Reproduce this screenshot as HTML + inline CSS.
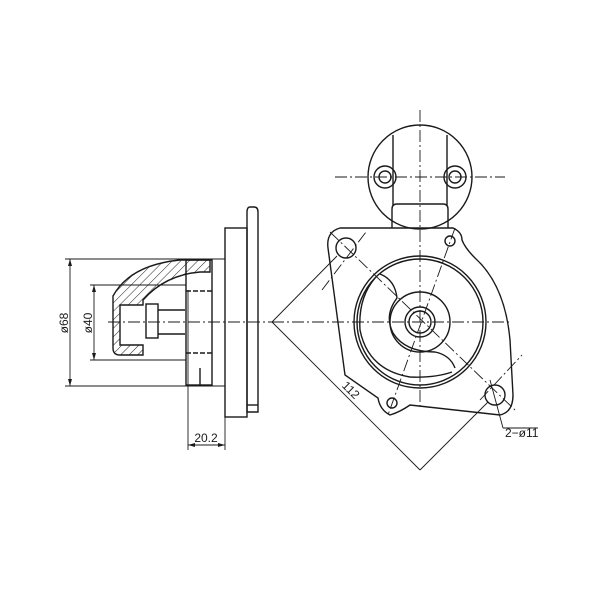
<!DOCTYPE html>
<html><head><meta charset="utf-8"><style>html,body{margin:0;background:#fff}</style></head>
<body>
<svg width="600" height="600" viewBox="0 0 600 600" xmlns="http://www.w3.org/2000/svg" font-family="Liberation Sans, sans-serif">
<defs>
<pattern id="h" width="6" height="6" patternUnits="userSpaceOnUse" patternTransform="rotate(45)">
<line x1="0" y1="0" x2="0" y2="6" stroke="#222" stroke-width="1"/></pattern>
</defs>
<g fill="none" stroke="#1a1a1a" stroke-width="1.4">
<!-- LEFT VIEW -->
<rect x="225" y="228" width="22" height="189"/>
<path d="M247 412 L258 412 L258 212 Q258 207 254 207 L250 207 Q247 207 247 212 Z"/>
<line x1="247" y1="405" x2="258" y2="405"/>
<!-- housing -->
<path d="M113 296 L113 348 Q113 355 120 355 L143 355 L143 345 L120 345 L120 305 L143 305 L143 300 Q165 275 200 272 L210 272 L210 260 L180 260 Q130 265 113 296 Z" fill="url(#h)"/>
<rect x="146" y="304" width="12" height="34"/>
<line x1="158" y1="310" x2="185" y2="310"/><line x1="158" y1="334" x2="185" y2="334"/>
<rect x="186" y="260" width="26" height="125"/>
<line x1="200" y1="368" x2="200" y2="385"/>
<line x1="186" y1="291" x2="212" y2="291" stroke-dasharray="5,2"/>
<line x1="186" y1="353" x2="212" y2="353" stroke-dasharray="5,2"/>
<!-- dimension lines -->
<g stroke-width="0.9">
<line x1="65" y1="259" x2="225" y2="259"/><line x1="65" y1="386" x2="225" y2="386"/>
<line x1="70" y1="259" x2="70" y2="386"/>
<line x1="90" y1="285" x2="186" y2="285"/><line x1="90" y1="360" x2="186" y2="360"/>
<line x1="94" y1="285" x2="94" y2="360"/>
<line x1="188" y1="290" x2="188" y2="450"/>
<line x1="188" y1="445" x2="225" y2="445"/>
<line x1="225" y1="417" x2="225" y2="450"/>
</g>
<line x1="108" y1="322" x2="272" y2="322" stroke-dasharray="12,3,2,3" stroke-width="0.9"/>
<!-- RIGHT VIEW -->
<circle cx="420" cy="177" r="52"/>
<path d="M393 135 L393 205 M447 135 L447 205"/>
<path d="M392 209 L392 228 M448 209 L448 228 M392 209 Q392 204 397 204 L443 204 Q448 204 448 209"/>
<circle cx="385" cy="177" r="11"/><circle cx="385" cy="177" r="6"/>
<circle cx="455" cy="177" r="11"/><circle cx="455" cy="177" r="6"/>
<path d="M340 228 L453 228 Q462 232 462 240 Q465 248 475 258 Q505 285 510 340 L513 395 Q513 412 500 415 L410 405 Q400 412 390 415 Q380 410 378 398 L345 375 L328 248 Q326 232 340 228 Z"/>
<circle cx="346" cy="248" r="10"/>
<circle cx="495" cy="395" r="10"/>
<circle cx="450" cy="241" r="5"/>
<circle cx="392" cy="403" r="5"/>
<circle cx="420" cy="322" r="66"/><circle cx="420" cy="322" r="63"/>
<circle cx="420" cy="322" r="30"/><circle cx="420" cy="322" r="15"/><circle cx="420" cy="322" r="11"/>
<path d="M375 278 Q358 298 360 330 Q368 370 410 377 Q435 378 452 372"/>
<path d="M380 274 Q395 280 397 298 Q384 315 393 333 Q405 352 435 352 Q450 355 455 368"/>
</g>
<g fill="none" stroke="#1a1a1a" stroke-width="0.9" stroke-dasharray="12,3,2,3">
<line x1="420" y1="110" x2="420" y2="410"/>
<line x1="335" y1="177" x2="505" y2="177"/>
<line x1="272" y1="322" x2="510" y2="322"/>
<line x1="330" y1="232" x2="515" y2="410"/>
<line x1="455" y1="228" x2="388" y2="415"/>
<line x1="322" y1="290" x2="366" y2="232"/>
<line x1="480" y1="400" x2="522" y2="355"/>
</g>
<g fill="none" stroke="#1a1a1a" stroke-width="0.9">
<line x1="272" y1="322" x2="337" y2="256"/>
<line x1="272" y1="322" x2="420" y2="470"/>
<line x1="420" y1="470" x2="488" y2="402"/>
<line x1="490" y1="380" x2="503" y2="428"/>
<line x1="503" y1="428" x2="538" y2="428"/>
</g>
<g fill="#1a1a1a">
<path d="M70 259 l-2 7 h4 z"/><path d="M70 386 l-2 -7 h4 z"/>
<path d="M94 285 l-2 7 h4 z"/><path d="M94 360 l-2 -7 h4 z"/>
<path d="M188 445 l7 -2 v4 z"/><path d="M225 445 l-7 -2 v4 z"/>
</g>
<g font-size="12" fill="#1a1a1a">
<text transform="translate(68 323) rotate(-90)" text-anchor="middle">ø68</text>
<text transform="translate(92 323) rotate(-90)" text-anchor="middle">ø40</text>
<text x="206" y="442" text-anchor="middle">20.2</text>
<text transform="translate(348 393) rotate(45)" text-anchor="middle">112</text>
<text x="505" y="437">2−ø11</text>
</g>
</svg>
</body></html>
